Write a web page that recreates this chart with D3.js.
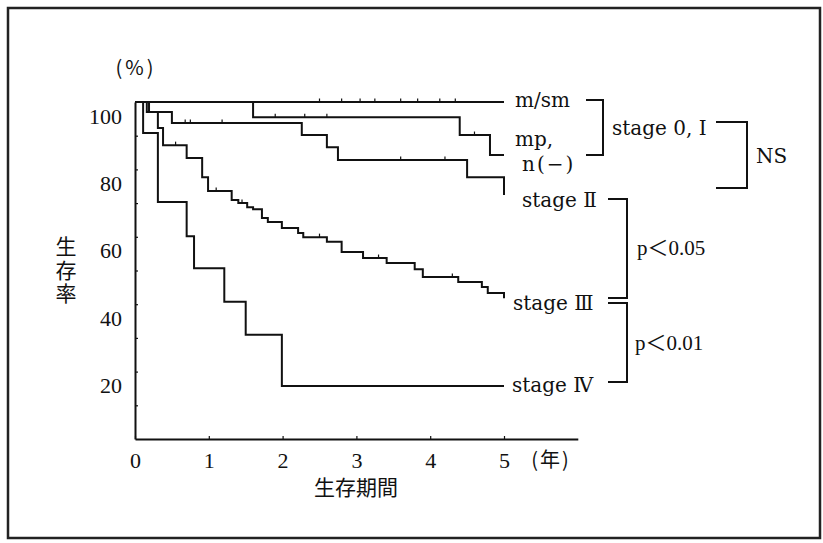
<!DOCTYPE html>
<html>
<head>
<meta charset="utf-8">
<script src="https://cdn.jsdelivr.net/npm/d3@7"></script>
<style>
  body { margin: 0; background: #fff; }
  svg text { fill: #111; }
</style>
</head>
<body>
<div id="chart"></div>
<script>
// Kaplan-Meier curves: time of each step (years) and survival (%) after it
const stepsMsm = [];
const survMsm = [];
const stepsMp = [1.6, 4.4, 4.81];
const survMp = [95.5, 90.2, 84.3];
const stepsII = [0.16, 0.5, 2.26, 2.6, 2.75, 4.5, 5.0];
const survII = [97.0, 93.8, 90.2, 86.6, 82.8, 77.7, 72.4];
const stepsIII = [0.19, 0.31, 0.38, 0.7, 0.91, 0.99, 1.31, 1.4, 1.52, 1.6, 1.72, 1.8, 1.99,
  2.21, 2.28, 2.6, 2.8, 3.09, 3.41, 3.79, 3.9, 4.38, 4.7, 4.78, 5.0];
const survIII = [97.0, 92.3, 87.2, 83.4, 77.7, 73.6, 70.9, 70.0, 68.8, 68.2, 65.6, 64.4, 62.6,
  61.1, 59.9, 58.5, 55.5, 53.7, 52.2, 50.4, 48.1, 46.6, 45.1, 43.3, 41.8];
const stepsIV = [0.11, 0.31, 0.7, 0.8, 1.21, 1.5, 1.99];
const survIV = [90.8, 70.3, 60.2, 50.7, 40.7, 30.9, 15.7];

// censored cases (small ticks on the curves)
const censorMsm = [2.5, 2.8, 3.05, 3.25, 3.6, 3.83, 4.13, 4.34];
const censorMp = [1.9, 2.3, 2.6, 4.6];
const censorII = [0.68, 0.75, 1.18, 3.6, 4.2];
const censorIII = [0.55, 1.1, 1.45, 2.5, 3.3, 4.3];

const xTicks = [0, 1, 2, 3, 4, 5];
const yLabelTicks = [20, 40, 60, 80, 100];
const yMinorTicks = [10, 20, 30, 40, 50, 60, 70, 80, 90];

const W = 823, H = 543;
const svg = d3.select("#chart").append("svg")
  .attr("width", W).attr("height", H)
  .style("font-family", "'DejaVu Serif', serif");

// outer frame of the scanned figure
svg.append("rect")
  .attr("x", 8).attr("y", 8).attr("width", 812).attr("height", 530)
  .attr("fill", "none").attr("stroke", "#222").attr("stroke-width", 2.5);

const x = d3.scaleLinear().domain([0, 6]).range([135, 577.8]);
const y = d3.scaleLinear().domain([0, 100]).range([439, 102]);

// axes
const xAxis = svg.append("g")
  .attr("transform", `translate(0,${y(0)})`)
  .call(d3.axisBottom(x).tickValues(xTicks).tickFormat(d3.format("d"))
    .tickSizeInner(-3).tickSizeOuter(0));
xAxis.select(".domain").attr("stroke", "#111").attr("stroke-width", 2);
xAxis.selectAll(".tick line").attr("stroke", "#111").attr("stroke-width", 1.2);
xAxis.selectAll("text")
  .attr("y", 21).attr("dy", "0.35em")
  .style("font-family", "'Liberation Serif', serif").style("font-size", "22px");

const yAxis = svg.append("g")
  .attr("transform", `translate(${x(0)},0)`)
  .call(d3.axisLeft(y).tickValues(yMinorTicks).tickSizeInner(-3).tickSizeOuter(0).tickFormat(""));
yAxis.select(".domain").attr("stroke", "#111").attr("stroke-width", 2);
yAxis.selectAll(".tick line").attr("stroke", "#111").attr("stroke-width", 1.2);

const yLab = svg.append("g")
  .attr("transform", `translate(${x(0)},0)`)
  .call(d3.axisLeft(y).tickValues(yLabelTicks).tickSize(0).tickPadding(13));
yLab.select(".domain").remove();
yLab.selectAll("text")
  .attr("y", 14)
  .style("font-family", "'Liberation Serif', serif").style("font-size", "22px");

// curves
const curves = [
  { steps: stepsMsm, surv: survMsm, censor: censorMsm },
  { steps: stepsMp, surv: survMp, censor: censorMp },
  { steps: stepsII, surv: survII, censor: censorII },
  { steps: stepsIII, surv: survIII, censor: censorIII },
  { steps: stepsIV, surv: survIV, censor: [] }
];

function toPoints(c) {
  const pts = [{ t: 0, s: 100 }];
  c.steps.forEach((t, i) => pts.push({ t: t, s: c.surv[i] }));
  pts.push({ t: 5, s: pts[pts.length - 1].s });
  return pts;
}
function survAt(c, t) {
  let s = 100;
  c.steps.forEach((st, i) => { if (st <= t) s = c.surv[i]; });
  return s;
}

const line = d3.line()
  .x(d => x(d.t))
  .y(d => y(d.s))
  .curve(d3.curveStepAfter);

curves.forEach(c => {
  svg.append("path")
    .datum(toPoints(c))
    .attr("d", line)
    .attr("fill", "none")
    .attr("stroke", "#111")
    .attr("stroke-width", 2);
  svg.selectAll(null)
    .data(c.censor)
    .enter().append("line")
    .attr("x1", d => x(d)).attr("x2", d => x(d))
    .attr("y1", d => y(survAt(c, d))).attr("y2", d => y(survAt(c, d)) - 3.5)
    .attr("stroke", "#111").attr("stroke-width", 1.2);
});

// axis titles
svg.append("text").attr("x", 136).attr("y", 68).attr("dy", "0.35em")
  .attr("text-anchor", "middle")
  .style("font-family", "'Noto Sans CJK JP', sans-serif").style("font-size", "20px")
  .style("letter-spacing", "3px")
  .text("(%)");

// vertical y title
svg.append("text")
  .attr("x", 66).attr("y", 271)
  .attr("text-anchor", "middle")
  .style("writing-mode", "vertical-rl")
  .style("font-family", "'Noto Sans CJK JP', sans-serif").style("font-size", "21px")
  .style("letter-spacing", "2.5px")
  .text("生存率");

svg.append("text").attr("x", 356).attr("y", 487).attr("dy", "0.38em")
  .attr("text-anchor", "middle")
  .style("font-family", "'Noto Sans CJK JP', sans-serif").style("font-size", "21px")
  .text("生存期間");

svg.append("text").attr("x", 551).attr("y", 459).attr("dy", "0.38em")
  .attr("text-anchor", "middle")
  .style("font-family", "'Noto Sans CJK JP', sans-serif").style("font-size", "20px")
  .style("letter-spacing", "2px")
  .text("(年)");

// curve labels
const labels = [
  { text: "m/sm", x: 515, y: 100 },
  { text: "mp,", x: 515, y: 139 },
  { text: "n(−)", x: 522, y: 164, ls: "2px" },
  { text: "stage 0, I", x: 612, y: 128 },
  { text: "NS", x: 756, y: 156 },
  { text: "stage Ⅱ", x: 522, y: 200 },
  { text: "stage Ⅲ", x: 513, y: 303 },
  { text: "stage Ⅳ", x: 512, y: 385 }
];
labels.forEach(l => {
  svg.append("text").attr("x", l.x).attr("y", l.y).attr("dy", "0.35em")
    .style("font-size", "20px")
    .style("letter-spacing", l.ls || null)
    .text(l.text);
});

const pvals = [
  { text: "p＜0.05", x: 637, y: 248 },
  { text: "p＜0.01", x: 635, y: 343 }
];
pvals.forEach(l => {
  svg.append("text").attr("x", l.x).attr("y", l.y).attr("dy", "0.35em")
    .style("font-family", "'Liberation Serif', 'Noto Sans CJK JP', serif")
    .style("font-size", "21px")
    .text(l.text);
});

// brackets joining the compared groups
const brackets = [
  { x0: 586, x1: 603, y0: 100, y1: 155 },
  { x0: 716, x1: 747, y0: 122, y1: 188 },
  { x0: 608, x1: 627, y0: 199, y1: 298 },
  { x0: 608, x1: 627, y0: 303, y1: 382 }
];
svg.selectAll(".bracket")
  .data(brackets)
  .enter().append("path")
  .attr("class", "bracket")
  .attr("d", b => `M${b.x0},${b.y0}H${b.x1}V${b.y1}H${b.x0}`)
  .attr("fill", "none")
  .attr("stroke", "#111")
  .attr("stroke-width", 2);
</script>
</body>
</html>
